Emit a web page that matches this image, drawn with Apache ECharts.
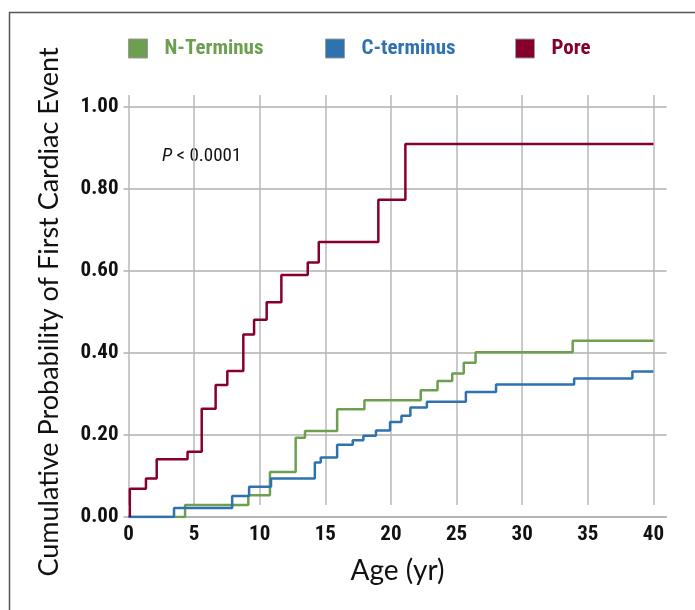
<!DOCTYPE html>
<html>
<head>
<meta charset="utf-8">
<script src="https://cdn.jsdelivr.net/npm/echarts@6/dist/echarts.min.js"></script>
<style>
html,body{margin:0;padding:0;background:#fff;}
#chart{width:695px;height:610px;}
</style>
</head>
<body>
<div id="chart"></div>
<script>
// ---- data ----
const seriesNames = ['N-Terminus', 'C-terminus', 'Pore'];
const xTickValues = [0, 5, 10, 15, 20, 25, 30, 35, 40];
const yTickValues = [0, 0.2, 0.4, 0.6, 0.8, 1.0];

const nTermAge  = [0, 4.31, 9.13, 10.78, 12.74, 13.45, 15.9, 17.98, 22.27, 23.55, 24.67, 25.55, 26.45, 33.85, 40];
const nTermProb = [0, 0.029, 0.053, 0.110, 0.193, 0.210, 0.263, 0.285, 0.309, 0.332, 0.350, 0.376, 0.402, 0.430, 0.430];

const cTermAge  = [0, 3.47, 7.9, 9.19, 10.86, 14.2, 14.65, 15.9, 17.09, 17.9, 18.86, 19.93, 20.8, 21.48, 22.74, 25.71, 28.01, 33.96, 38.4, 40];
const cTermProb = [0, 0.022, 0.051, 0.074, 0.094, 0.133, 0.145, 0.176, 0.187, 0.198, 0.211, 0.232, 0.247, 0.267, 0.281, 0.305, 0.323, 0.338, 0.355, 0.355];

const poreAge  = [0.1, 0.1, 1.33, 2.15, 4.5, 5.58, 6.64, 7.53, 8.75, 9.57, 10.53, 11.65, 13.66, 14.5, 19.04, 21.1, 40];
const poreProb = [0, 0.069, 0.094, 0.141, 0.159, 0.264, 0.322, 0.356, 0.445, 0.481, 0.524, 0.590, 0.621, 0.671, 0.774, 0.910, 0.910];

const colors = ['#6c9f4f', '#2f72b0', '#86002f'];
const pText = 'P';
const pRest = ' < 0.0001';

const labelFont = "'Liberation Sans Narrow', 'Roboto Condensed', 'Liberation Sans', Arial, sans-serif";
const titleFont = "Lato, 'Open Sans', sans-serif";

const chart = echarts.init(document.getElementById('chart'), null, {renderer: 'canvas'});

function pairs(xs, ys) { return xs.map((x, i) => [x, ys[i]]); }

const legendLefts = [128, 325, 515];

const option = {
  animation: false,
  color: colors,
  grid: [
    {left: 128.5, right: 28.5, top: 107, bottom: 93},
    {left: 128.5, right: 28.5, top: 95, bottom: 105}
  ],
  legend: seriesNames.map((n, i) => ({
    data: [n],
    left: legendLefts[i],
    top: 38,
    padding: 0,
    icon: 'rect',
    itemWidth: 19,
    itemHeight: 19,
    itemGap: 0,
    itemStyle: {borderColor: '#9a9a9a', borderWidth: 1},
    textStyle: {color: colors[i], fontFamily: labelFont, fontSize: 21, fontWeight: 'bold', padding: [0, 0, 0, 12]},
    selectedMode: false
  })),
  xAxis: [
    {
      type: 'value', gridIndex: 0, min: 0, max: 41, interval: 5,
      name: 'Age (yr)', nameLocation: 'middle', nameGap: 40,
      nameTextStyle: {fontFamily: titleFont, fontSize: 28, color: '#111'},
      axisLine: {show: true, lineStyle: {color: '#b0b0b0', width: 1.5}},
      axisTick: {show: false},
      splitLine: {show: false},
      axisLabel: {
        margin: 7, color: '#111', fontFamily: labelFont, fontSize: 21, fontWeight: 'bold',
        formatter: v => xTickValues.includes(v) ? String(v) : ''
      }
    },
    {
      type: 'value', gridIndex: 1, min: 0, max: 41, interval: 5,
      axisLine: {show: false}, axisTick: {show: false}, axisLabel: {show: false},
      splitLine: {show: true, showMinLine: true, showMaxLine: false, lineStyle: {color: '#b8b8b8', width: 1.5}}
    }
  ],
  yAxis: [
    {
      type: 'value', gridIndex: 0, min: 0, max: 1, interval: 0.2,
      name: 'Cumulative Probability of First Cardiac Event', nameLocation: 'middle', nameGap: 66,
      nameTextStyle: {fontFamily: titleFont, fontSize: 27, color: '#111'},
      axisLine: {show: false},
      axisTick: {show: true, length: 5, lineStyle: {color: '#b0b0b0', width: 1.5}},
      splitLine: {show: true, lineStyle: {color: '#b0b0b0', width: 1.5}},
      axisLabel: {
        margin: 10, color: '#111', fontFamily: labelFont, fontSize: 21, fontWeight: 'bold',
        formatter: v => yTickValues.some(t => Math.abs(t - v) < 1e-9) ? v.toFixed(2) : ''
      }
    },
    {type: 'value', gridIndex: 1, min: 0, max: 1, show: false}
  ],
  graphic: [
    {
      type: 'rect', left: 7, top: 10, silent: true,
      shape: {x: 0, y: 0, width: 720, height: 640},
      style: {fill: 'none', stroke: '#555', lineWidth: 1.5}
    },
    {
      type: 'text', left: 162, top: 147,
      style: {
        text: '{i|' + pText + '}{r|' + pRest + '}',
        rich: {
          i: {fontFamily: labelFont, fontSize: 19, fontStyle: 'italic', fill: '#111'},
          r: {fontFamily: labelFont, fontSize: 19, fill: '#111'}
        }
      }
    }
  ],
  series: [
    {name: seriesNames[0], type: 'line', step: 'end', symbol: 'none', xAxisIndex: 0, yAxisIndex: 0,
     lineStyle: {width: 2.5, color: colors[0]}, data: pairs(nTermAge, nTermProb)},
    {name: seriesNames[1], type: 'line', step: 'end', symbol: 'none', xAxisIndex: 0, yAxisIndex: 0,
     lineStyle: {width: 2.5, color: colors[1]}, data: pairs(cTermAge, cTermProb)},
    {name: seriesNames[2], type: 'line', step: 'end', symbol: 'none', xAxisIndex: 0, yAxisIndex: 0,
     lineStyle: {width: 2.5, color: colors[2]}, data: pairs(poreAge, poreProb)}
  ]
};
chart.setOption(option);
</script>
</body>
</html>
